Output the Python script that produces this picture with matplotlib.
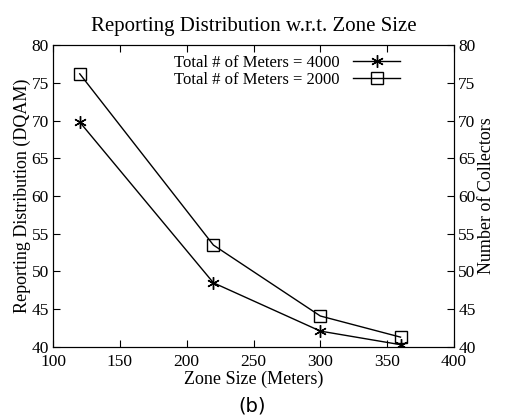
import matplotlib.pyplot as plt

# datos
zona = [120, 220, 300, 360]
medidores_4000 = [69.8, 48.5, 42.1, 40.3]
medidores_2000 = [76.2, 53.5, 44.1, 41.3]
xticks = [100, 150, 200, 250, 300, 350, 400]
yticks = [40, 45, 50, 55, 60, 65, 70, 75, 80]

plt.rcParams['font.family'] = ['Liberation Serif', 'DejaVu Serif']

fig = plt.figure(figsize=(5.05, 4.18), dpi=100)
ax = fig.add_axes([0.105, 0.170, 0.794, 0.722])

ax.plot(zona, medidores_4000, color='black', lw=1, marker=(6, 2, 0), ms=9,
        mew=1, label='Total # of Meters = 4000')
ax.plot(zona, medidores_2000, color='black', lw=1, marker='s', ms=9,
        mfc='none', mew=1, label='Total # of Meters = 2000')

ax.set_xlim(100, 400)
ax.set_ylim(40, 80)
ax.set_xticks(xticks)
ax.set_yticks(yticks)
ax.tick_params(direction='in', length=5, labelsize=12.5, top=True, pad=3)
ax.tick_params(axis='x', pad=5)
ax.set_xlabel('Zone Size (Meters)', fontsize=13, labelpad=0.5)
ax.set_ylabel('Reporting Distribution (DQAM)', fontsize=13, labelpad=0)
ax.set_title('Reporting Distribution w.r.t. Zone Size', fontsize=15, pad=10)

ax2 = ax.twinx()
ax2.set_ylim(40, 80)
ax2.set_yticks(yticks)
ax2.tick_params(direction='in', length=5, labelsize=12.5, pad=3)
ax2.set_ylabel('Number of Collectors', fontsize=13, labelpad=2)

ax.legend(loc='upper right', bbox_to_anchor=(0.89, 1.0), markerfirst=False,
          frameon=False, fontsize=12, handlelength=2.8, handletextpad=0.8,
          labelspacing=0.05, borderaxespad=0.2)

fig.text(0.5, 0.015, '(b)', ha='center', fontsize=14, family='DejaVu Sans')

plt.savefig('out.png', dpi=100)
